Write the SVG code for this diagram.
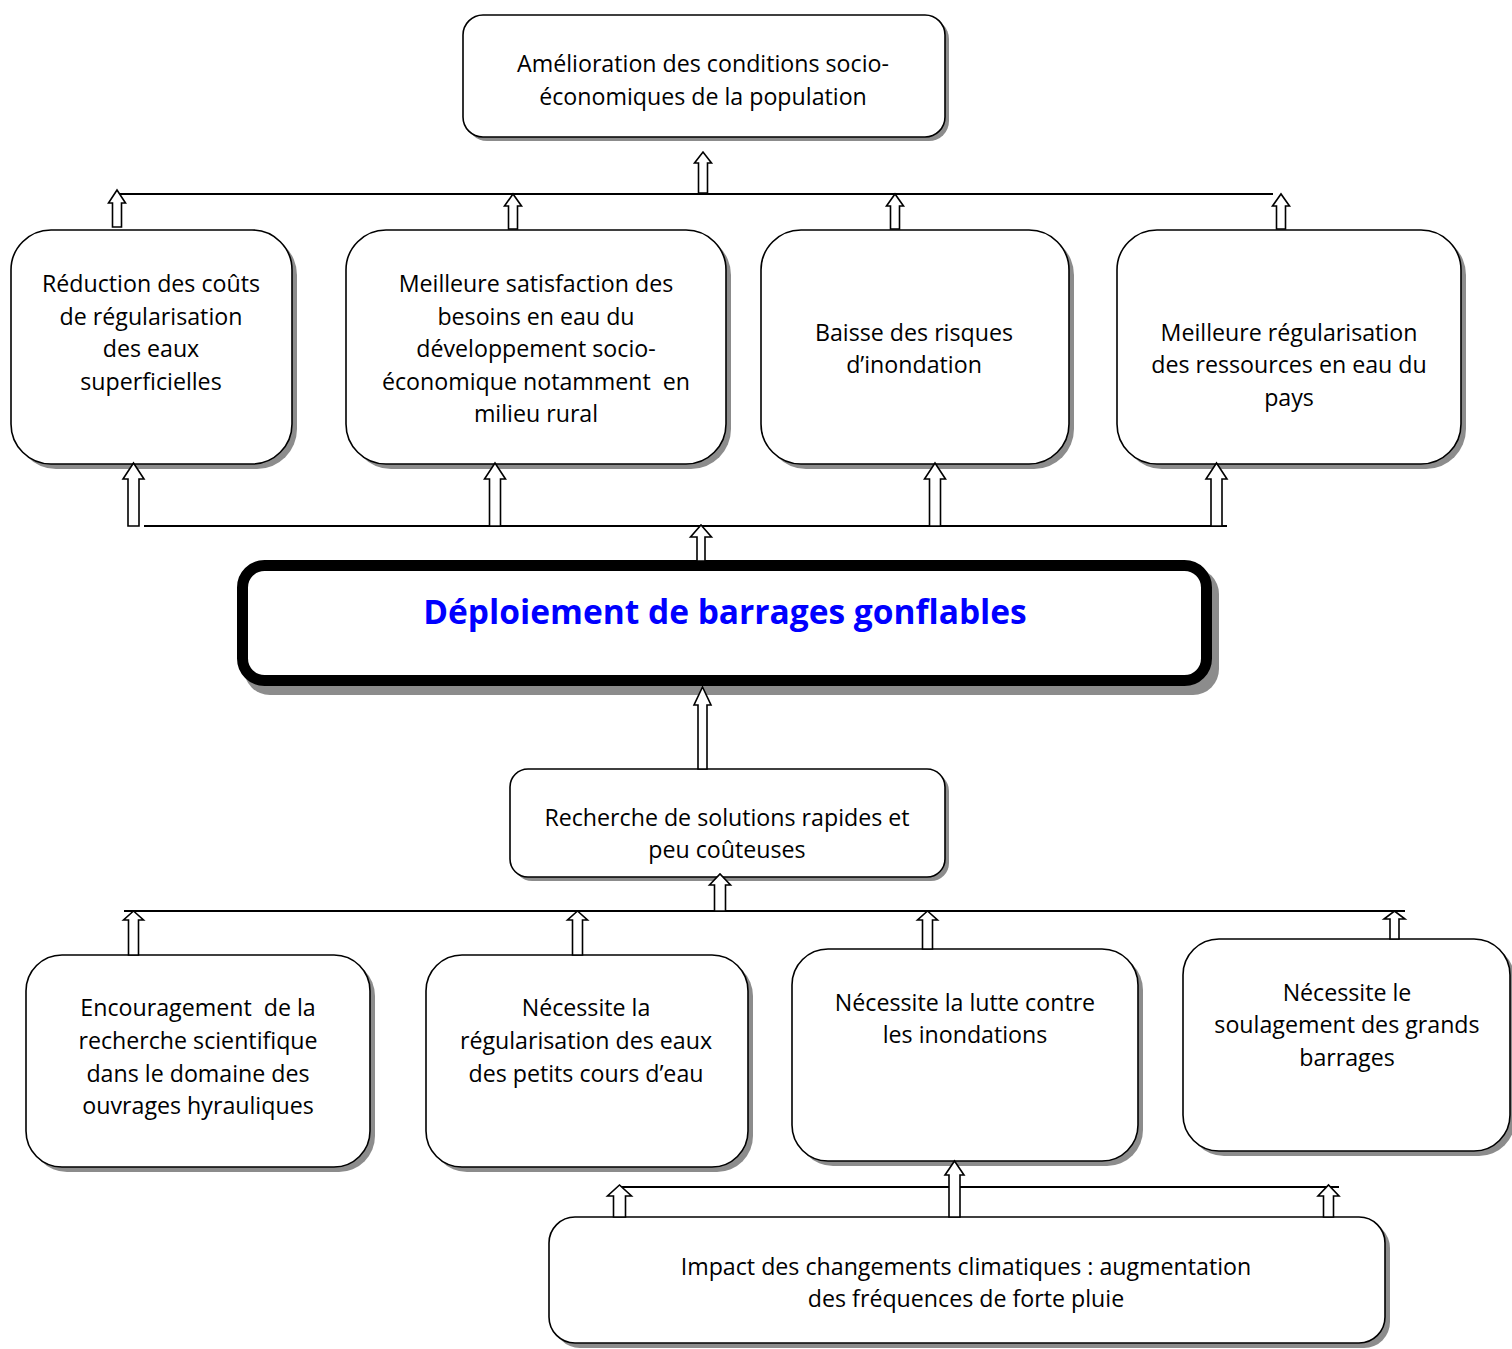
<svg xmlns="http://www.w3.org/2000/svg" width="1512" height="1349" viewBox="0 0 1512 1349">
  <defs>
    <style>
      .box { fill: #ffffff; stroke: #000000; stroke-width: 1.6; }
      .shadow { fill: #8c8c8c; }
      .main { fill: #ffffff; stroke: #000000; stroke-width: 11; }
      .lbl { font-family: "Open Sans", Lato, "Liberation Sans", sans-serif; font-size: 23.2px; fill: #000000; text-anchor: middle; white-space: pre; }
      .title { font-family: "Open Sans", Lato, "Liberation Sans", sans-serif; font-size: 33.5px; font-weight: bold; fill: #0000ff; text-anchor: middle; }
      .line { stroke: #000000; stroke-width: 2; fill: none; }
      .arrow { fill: #ffffff; stroke: #000000; stroke-width: 1.6; stroke-linejoin: miter; }
    </style>
  </defs>
  <rect width="1512" height="1349" fill="#ffffff"/>

  <!-- Top goal -->
  <g id="n-amelioration">
    <rect class="shadow" x="467" y="19" width="482" height="122" rx="20"/>
    <rect class="box" x="463" y="15" width="482" height="122" rx="20"/>
    <text class="lbl" x="703" y="72">Amélioration des conditions socio-</text>
    <text class="lbl" x="703" y="105">économiques de la population</text>
  </g>

  <!-- Effects row -->
  <g id="n-reduction">
    <rect class="shadow" x="16" y="235" width="281" height="234" rx="40"/>
    <rect class="box" x="11" y="230" width="281" height="234" rx="40"/>
    <text class="lbl" x="151" y="292">Réduction des coûts</text>
    <text class="lbl" x="151" y="325">de régularisation</text>
    <text class="lbl" x="151" y="357">des eaux</text>
    <text class="lbl" x="151" y="390">superficielles</text>
  </g>
  <g id="n-satisfaction">
    <rect class="shadow" x="351" y="235" width="380" height="234" rx="40"/>
    <rect class="box" x="346" y="230" width="380" height="234" rx="40"/>
    <text class="lbl" x="536" y="292">Meilleure satisfaction des</text>
    <text class="lbl" x="536" y="325">besoins en eau du</text>
    <text class="lbl" x="536" y="357">développement socio-</text>
    <text class="lbl" x="536" y="390">économique notamment  en</text>
    <text class="lbl" x="536" y="422">milieu rural</text>
  </g>
  <g id="n-inondation">
    <rect class="shadow" x="766" y="235" width="308" height="234" rx="40"/>
    <rect class="box" x="761" y="230" width="308" height="234" rx="40"/>
    <text class="lbl" x="914" y="341">Baisse des risques</text>
    <text class="lbl" x="914" y="373">d’inondation</text>
  </g>
  <g id="n-ressources">
    <rect class="shadow" x="1122" y="235" width="344" height="234" rx="40"/>
    <rect class="box" x="1117" y="230" width="344" height="234" rx="40"/>
    <text class="lbl" x="1289" y="341">Meilleure régularisation</text>
    <text class="lbl" x="1289" y="373">des ressources en eau du</text>
    <text class="lbl" x="1289" y="406">pays</text>
  </g>

  <!-- Central action -->
  <g id="n-deploiement">
    <rect class="shadow" x="244" y="568" width="975" height="127" rx="26"/>
    <rect class="main" x="242.5" y="565.5" width="964" height="115" rx="22"/>
    <text class="title" x="725" y="624">Déploiement de barrages gonflables</text>
  </g>

  <!-- Driver -->
  <g id="n-recherche">
    <rect class="shadow" x="514" y="773" width="435" height="108" rx="18"/>
    <rect class="box" x="510" y="769" width="435" height="108" rx="18"/>
    <text class="lbl" x="727" y="826">Recherche de solutions rapides et</text>
    <text class="lbl" x="727" y="858">peu coûteuses</text>
  </g>

  <!-- Causes row -->
  <g id="n-encouragement">
    <rect class="shadow" x="31" y="960" width="344" height="212" rx="36"/>
    <rect class="box" x="26" y="955" width="344" height="212" rx="36"/>
    <text class="lbl" x="198" y="1016">Encouragement  de la</text>
    <text class="lbl" x="198" y="1049">recherche scientifique</text>
    <text class="lbl" x="198" y="1082">dans le domaine des</text>
    <text class="lbl" x="198" y="1114">ouvrages hyrauliques</text>
  </g>
  <g id="n-petits-cours">
    <rect class="shadow" x="431" y="960" width="322" height="212" rx="36"/>
    <rect class="box" x="426" y="955" width="322" height="212" rx="36"/>
    <text class="lbl" x="586" y="1016">Nécessite la</text>
    <text class="lbl" x="586" y="1049">régularisation des eaux</text>
    <text class="lbl" x="586" y="1082">des petits cours d’eau</text>
  </g>
  <g id="n-lutte">
    <rect class="shadow" x="797" y="954" width="346" height="212" rx="36"/>
    <rect class="box" x="792" y="949" width="346" height="212" rx="36"/>
    <text class="lbl" x="965" y="1011">Nécessite la lutte contre</text>
    <text class="lbl" x="965" y="1043">les inondations</text>
  </g>
  <g id="n-soulagement">
    <rect class="shadow" x="1188" y="944" width="327" height="212" rx="36"/>
    <rect class="box" x="1183" y="939" width="327" height="212" rx="36"/>
    <text class="lbl" x="1347" y="1001">Nécessite le</text>
    <text class="lbl" x="1347" y="1033">soulagement des grands</text>
    <text class="lbl" x="1347" y="1066">barrages</text>
  </g>

  <!-- Root cause -->
  <g id="n-climat">
    <rect class="shadow" x="554" y="1222" width="836" height="126" rx="26"/>
    <rect class="box" x="549" y="1217" width="836" height="126" rx="26"/>
    <text class="lbl" x="966" y="1275">Impact des changements climatiques : augmentation</text>
    <text class="lbl" x="966" y="1307">des fréquences de forte pluie</text>
  </g>

  <!-- Connectors: bus lines and hollow block arrows -->
  <g id="connectors">
    <line class="line" x1="117" y1="194" x2="1273" y2="194"/>
    <line class="line" x1="144" y1="526" x2="1227" y2="526"/>
    <line class="line" x1="124" y1="911" x2="1405" y2="911"/>
    <line class="line" x1="620" y1="1187" x2="1339" y2="1187"/>

    <!-- into the top goal -->
    <path class="arrow" d="M698.5,193 V163 H694.5 L703,152 L711.5,163 H707.5 V193 Z"/>
    <!-- effects up to the bus -->
    <path class="arrow" d="M112.5,227 V203 H108.5 L117,190 L125.5,203 H121.5 V227 Z"/>
    <path class="arrow" d="M508.5,229 V206 H504.5 L513,194 L521.5,206 H517.5 V229 Z"/>
    <path class="arrow" d="M890.5,229 V206 H886.5 L895,194 L903.5,206 H899.5 V229 Z"/>
    <path class="arrow" d="M1276.5,229 V206 H1272.5 L1281,194 L1289.5,206 H1285.5 V229 Z"/>
    <!-- bus up into effects -->
    <path class="arrow" d="M128,526 V479 H123 L133.5,463 L144,479 H139 V526 Z"/>
    <path class="arrow" d="M489.5,526 V479 H484.5 L495,463 L505.5,479 H500.5 V526 Z"/>
    <path class="arrow" d="M929.5,526 V479 H924.5 L935,463 L945.5,479 H940.5 V526 Z"/>
    <path class="arrow" d="M1211,526 V479 H1206 L1216.5,463 L1227,479 H1222 V526 Z"/>
    <!-- central action up to the bus -->
    <path class="arrow" d="M697,561 V537 H690.5 L701,525 L711.5,537 H705 V561 Z"/>
    <!-- driver up to central action -->
    <path class="arrow" d="M698,769 V705 H694 L702.5,687 L711,705 H707 V769 Z"/>
    <!-- bus up to driver -->
    <path class="arrow" d="M714.5,911 V885 H709.5 L720,874 L730.5,885 H725.5 V911 Z"/>
    <!-- causes up to the bus -->
    <path class="arrow" d="M128.5,955 V920 H123.5 L133.5,911 L143.5,920 H138.5 V955 Z"/>
    <path class="arrow" d="M572.5,955 V920 H567.5 L577.5,911 L587.5,920 H582.5 V955 Z"/>
    <path class="arrow" d="M922.5,949 V920 H917.5 L927.5,911 L937.5,920 H932.5 V949 Z"/>
    <path class="arrow" d="M1390,939 V919 H1384 L1394.5,911 L1405,919 H1399 V939 Z"/>
    <!-- root cause arrows -->
    <path class="arrow" d="M613.5,1217 V1196 H607.5 L619.5,1185 L631.5,1196 H625.5 V1217 Z"/>
    <path class="arrow" d="M949,1217 V1175 H945 L954.5,1161 L964,1175 H960 V1217 Z"/>
    <path class="arrow" d="M1323.5,1217 V1196 H1318 L1328.5,1185 L1339,1196 H1333.5 V1217 Z"/>
  </g>
</svg>
